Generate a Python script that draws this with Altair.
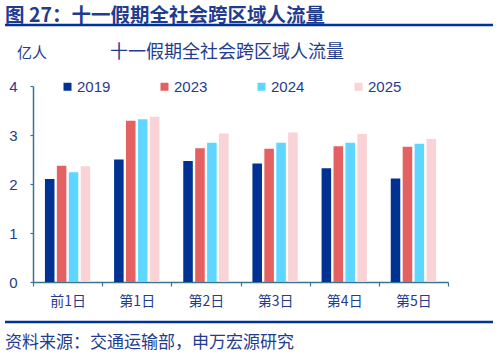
import altair as alt
import pandas as pd

days = ["前1日", "第1日", "第2日", "第3日", "第4日", "第5日"]
years = ["2019", "2023", "2024", "2025"]
v2019 = [2.10, 2.50, 2.47, 2.42, 2.32, 2.11]
v2023 = [2.37, 3.29, 2.73, 2.72, 2.77, 2.76]
v2024 = [2.24, 3.32, 2.84, 2.84, 2.84, 2.82]
v2025 = [2.36, 3.37, 3.03, 3.05, 3.02, 2.92]
colors = ["#003293", "#E56061", "#5FD6FF", "#F9D3D5"]

header = "图 27：十一假期全社会跨区域人流量"
chart_title = "十一假期全社会跨区域人流量"
unit = "亿人"
source = "资料来源：交通运输部，申万宏源研究"

rows = []
for series, yr in zip([v2019, v2023, v2024, v2025], years):
    for d, v in zip(days, series):
        rows.append({"day": d, "year": yr, "value": v})
df = pd.DataFrame(rows)

NAVY = "#1F3C8F"
AXIS = "#3A7490"
CJK = "Noto Sans CJK SC"
LAT = "Liberation Sans"

bars = alt.Chart(df).mark_bar(stroke=None).encode(
    x=alt.X("day:N", sort=days, title=None,
            scale=alt.Scale(paddingInner=0, paddingOuter=0),
            axis=alt.Axis(labelAngle=0, tickBand="extent", labelFont=CJK,
                          labelFontSize=14, labelColor=NAVY, labelPadding=8,
                          domainColor=AXIS, tickColor=AXIS, tickSize=4,
                          domainWidth=1.5, tickWidth=1.2)),
    xOffset=alt.XOffset("year:N", sort=years,
                        scale=alt.Scale(paddingInner=0.2, paddingOuter=1)),
    y=alt.Y("value:Q", title=None,
            scale=alt.Scale(domain=[0, 4], nice=False),
            axis=alt.Axis(values=[0, 1, 2, 3, 4], format="d", grid=False,
                          labelFont=LAT, labelFontSize=15, labelColor=NAVY,
                          labelPadding=13, domainColor=AXIS, tickColor=AXIS,
                          tickSize=3, domainWidth=1.5, tickWidth=1.2)),
    color=alt.Color("year:N", sort=years,
                    scale=alt.Scale(domain=years, range=colors),
                    legend=alt.Legend(orient="none", legendX=27, legendY=-7,
                                      direction="horizontal", title=None,
                                      symbolType="square", symbolSize=64,
                                      symbolStrokeWidth=0, labelFont=LAT,
                                      labelFontSize=15, labelColor=NAVY,
                                      columnPadding=46, labelOffset=2)),
)

def txt(s, x, y, size, font=CJK, bold=False, align="left"):
    return alt.Chart(pd.DataFrame({"t": [s]})).mark_text(
        font=font, fontSize=size, fontWeight="bold" if bold else "normal",
        color=NAVY, align=align, baseline="middle"
    ).encode(text="t:N", x=alt.value(x), y=alt.value(y))

def rule(y, w):
    return alt.Chart(pd.DataFrame({"a": [0]})).mark_rule(
        color="#003399", strokeWidth=w
    ).encode(x=alt.value(-28), x2=alt.value(460), y=alt.value(y))

chart = alt.layer(
    bars,
    txt(header, -28, -70, 19.5, bold=True),
    rule(-61, 2.5),
    txt(unit, -16, -33, 15),
    txt(chart_title, 194, -33, 18, align="center"),
    rule(236, 2.5),
    txt(source, -28, 257, 17),
).properties(
    width=415, height=196,
    autosize=alt.AutoSizeParams(type="none"),
    padding={"left": 33, "top": 86, "right": 52, "bottom": 72},
    background="white",
).configure_view(stroke=None)

chart.save("out.html", embed_options={"renderer": "svg", "actions": False})
